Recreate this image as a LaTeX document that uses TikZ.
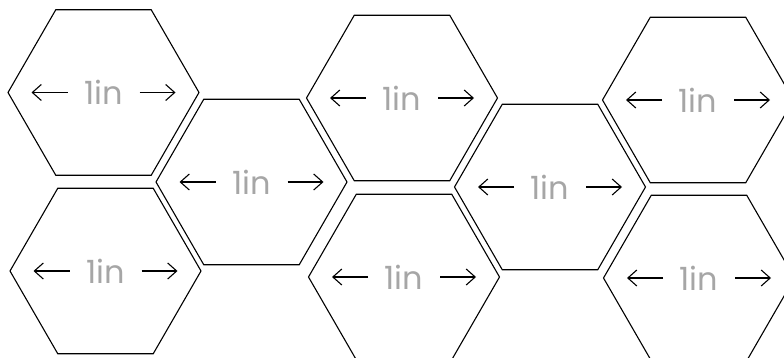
\documentclass[tikz,border=0pt]{standalone}
\usepackage{fontspec}
\setmainfont{Poppins}
\usepackage{tikz}
\usetikzlibrary{shapes.geometric}
\usetikzlibrary{arrows.meta}
\tikzstyle{hexa}=[regular polygon, regular polygon sides=6, draw=black, line width=1.1pt, minimum size=191pt, inner sep=0pt, text=black!35, font=\fontsize{32}{32}\selectfont]
\tikzset{>={Straight Barb[length=9pt,width=16pt]}}

\begin{document}
\begin{tikzpicture}[x=1pt, y=-1pt]
      \useasboundingbox (0, 0) rectangle (784, 358);

      \draw node at (103.5, 92.5) [hexa] (a1) {1in};
      \draw node at (105.5, 271) [hexa] (a2) {1in};
      \draw node at (251.5, 182) [hexa] (b) {1in};
      \draw node at (402, 98) [hexa] (c1) {1in};
      \draw node at (404, 277) [hexa] (c2) {1in};
      \draw node at (550, 187) [hexa] (d) {1in};
      \draw node at (698, 100) [hexa] (e1) {1in};
      \draw node at (699, 278) [hexa] (e2) {1in};

      % width arrows either side of each label
      \foreach \h in {a1, a2, b, c1, c2, d, e1, e2} {
        \draw [->, line width=1.1pt] ([xshift=-36pt]\h.center) to ([xshift=-72pt]\h.center);
        \draw [->, line width=1.1pt] ([xshift=36pt]\h.center) to ([xshift=72pt]\h.center);
      }
    \end{tikzpicture}
\end{document}
